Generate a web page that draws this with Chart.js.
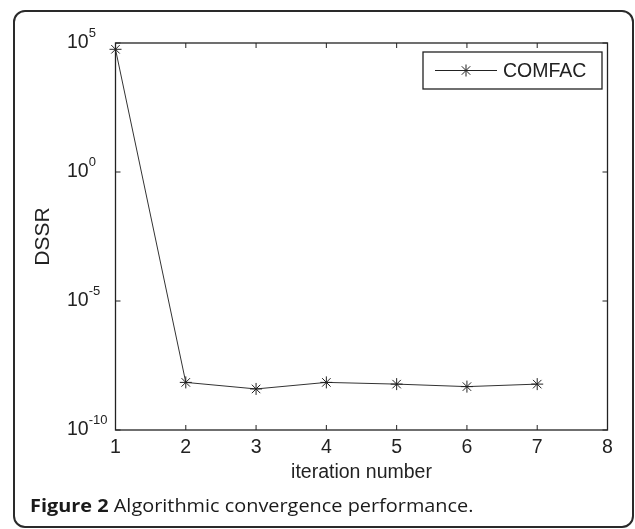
<!DOCTYPE html>
<html>
<head>
<meta charset="utf-8">
<script src="https://cdn.jsdelivr.net/npm/chart.js@4"></script>
<style>
  html, body { margin: 0; padding: 0; background: #fff; }
  #wrap { position: relative; width: 635px; height: 529px; overflow: hidden; }
  #frame {
    position: absolute; left: 13px; top: 10px; width: 617px; height: 514px;
    border: 2px solid #2a2a2a; border-radius: 12px;
  }
  #chart { position: absolute; left: 0; top: 0; }
  #caption {
    position: absolute; left: 30px; top: 492px; white-space: nowrap;
    font-family: "Open Sans", sans-serif; font-size: 18.5px; color: #1a1a1a;
    transform-origin: 0 0;
  }
  #caption b { font-weight: 700; }
</style>
</head>
<body>
<div id="wrap">
  <div id="frame"></div>
  <canvas id="chart" width="635" height="529"></canvas>
  <div id="caption"><b>Figure 2</b> Algorithmic convergence performance.</div>
</div>
<script>
// data
const iterations = [1, 2, 3, 4, 5, 6, 7];
const dssr = [5.7e4, 7e-9, 3.9e-9, 7e-9, 6e-9, 4.8e-9, 6e-9];
const xTicks = [1, 2, 3, 4, 5, 6, 7, 8];
const yExponents = [5, 0, -5, -10];
const seriesName = 'COMFAC';
const xTitle = 'iteration number';
const yTitle = 'DSSR';

const ink = '#222';
const font = '"Liberation Sans", Arial, sans-serif';

// frame, inward ticks, labels and legend in MATLAB style
const matlabAxes = {
  id: 'matlabAxes',
  afterDatasetsDraw(chart) {
    const ctx = chart.ctx;
    const area = chart.chartArea;
    const xs = chart.scales.x, ys = chart.scales.y;
    const tl = 5;
    ctx.save();
    ctx.strokeStyle = ink;
    ctx.lineWidth = 1.3;
    ctx.strokeRect(area.left, area.top, area.right - area.left, area.bottom - area.top);

    ctx.lineWidth = 1;
    ctx.beginPath();
    xTicks.forEach(v => {
      const px = xs.getPixelForValue(v);
      ctx.moveTo(px, area.bottom); ctx.lineTo(px, area.bottom - tl);
      ctx.moveTo(px, area.top); ctx.lineTo(px, area.top + tl);
    });
    yExponents.forEach(e => {
      const py = ys.getPixelForValue(Math.pow(10, e));
      ctx.moveTo(area.left, py); ctx.lineTo(area.left + tl, py);
      ctx.moveTo(area.right, py); ctx.lineTo(area.right - tl, py);
    });
    ctx.stroke();

    ctx.fillStyle = ink;
    // x tick labels
    ctx.font = '19.5px ' + font;
    ctx.textAlign = 'center';
    ctx.textBaseline = 'middle';
    xTicks.forEach(v => {
      ctx.fillText(String(v), xs.getPixelForValue(v), area.bottom + 18);
    });
    // y tick labels 10^e
    yExponents.forEach(e => {
      const py = ys.getPixelForValue(Math.pow(10, e));
      ctx.textAlign = 'left';
      ctx.font = '19.5px ' + font;
      ctx.fillText('10', 67, py);
      const w = ctx.measureText('10').width;
      ctx.font = '13px ' + font;
      ctx.fillText(String(e), 67 + w, py - 10);
    });
    // axis titles
    ctx.font = '19.5px ' + font;
    ctx.textAlign = 'center';
    ctx.fillText(xTitle, (area.left + area.right) / 2, area.bottom + 43);
    ctx.save();
    ctx.translate(43, (area.top + area.bottom) / 2);
    ctx.rotate(-Math.PI / 2);
    ctx.font = '21px ' + font;
    ctx.fillText(yTitle, 0, 0);
    ctx.restore();

    // legend box
    const lx = 423, ly = 52, lw = 179, lh = 37;
    ctx.fillStyle = '#fff';
    ctx.fillRect(lx, ly, lw, lh);
    ctx.lineWidth = 1.3;
    ctx.strokeStyle = ink;
    ctx.strokeRect(lx, ly, lw, lh);
    const cy = ly + lh / 2;
    ctx.lineWidth = 1;
    ctx.beginPath();
    ctx.moveTo(435, cy); ctx.lineTo(497, cy);
    ctx.stroke();
    const ds = chart.data.datasets[0];
    Chart.helpers.drawPoint(ctx, {
      pointStyle: 'star', radius: ds.pointRadius, rotation: 0, borderWidth: 1
    }, 466, cy);
    ctx.fillStyle = ink;
    ctx.font = '19.5px ' + font;
    ctx.textAlign = 'left';
    ctx.fillText(ds.label, 503, cy + 1);
    ctx.restore();
  }
};

new Chart(document.getElementById('chart'), {
  type: 'line',
  data: {
    datasets: [{
      label: seriesName,
      data: iterations.map((x, i) => ({ x: x, y: dssr[i] })),
      borderColor: '#333',
      borderWidth: 1,
      pointStyle: 'star',
      pointRadius: 6,
      pointBorderColor: ink,
      pointBorderWidth: 1,
      pointBackgroundColor: ink,
      tension: 0,
      clip: false
    }]
  },
  options: {
    responsive: false,
    animation: false,
    events: [],
    layout: { padding: { left: 0, top: 43, right: 27.5, bottom: 0 } },
    plugins: { legend: { display: false }, tooltip: { enabled: false } },
    scales: {
      x: {
        type: 'linear', min: 1, max: 8,
        grid: { display: false, drawTicks: false },
        border: { display: false },
        ticks: { display: false, stepSize: 1 },
        afterFit: s => { s.height = 99; }
      },
      y: {
        type: 'logarithmic', min: 1e-10, max: 1e5,
        grid: { display: false, drawTicks: false },
        border: { display: false },
        ticks: { display: false },
        afterFit: s => { s.width = 115.5; }
      }
    }
  },
  plugins: [matlabAxes]
});

// stretch the caption to the width it has in the figure
const cap = document.getElementById('caption');
cap.style.transform = 'scaleX(' + (444 / cap.offsetWidth) + ')';
</script>
</body>
</html>
